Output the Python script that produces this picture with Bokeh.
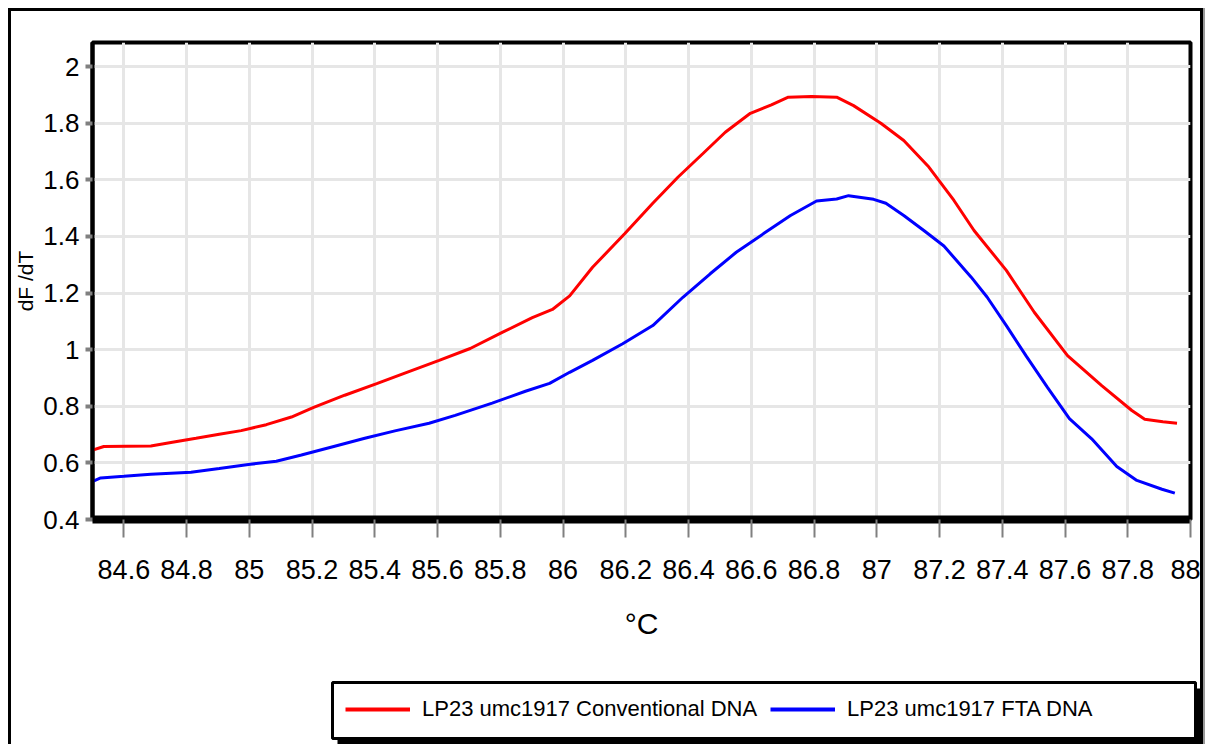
from bokeh.plotting import figure
from bokeh.layouts import column
from bokeh.models import Range1d, FixedTicker, Legend, LegendItem
from bokeh.embed import file_html
from bokeh.resources import INLINE

# Melt-curve derivative readings (temperature in °C, dF/dT)
temp_conv = [84.498, 84.536, 84.686, 84.750, 84.830, 84.904, 84.974, 85.054, 85.134, 85.205,
             85.304, 85.406, 85.502, 85.605, 85.704, 85.806, 85.902, 85.966, 86.021, 86.094,
             86.197, 86.286, 86.366, 86.446, 86.517, 86.597, 86.664, 86.718, 86.792, 86.872,
             86.926, 87.013, 87.086, 87.166, 87.246, 87.310, 87.413, 87.502, 87.608, 87.717,
             87.813, 87.854, 87.912, 87.957]
df_conv = [0.644, 0.658, 0.660, 0.672, 0.687, 0.701, 0.714, 0.735, 0.762, 0.796,
           0.839, 0.880, 0.920, 0.962, 1.004, 1.061, 1.113, 1.142, 1.190, 1.291,
           1.410, 1.517, 1.609, 1.693, 1.768, 1.835, 1.865, 1.892, 1.894, 1.892,
           1.862, 1.800, 1.739, 1.645, 1.527, 1.421, 1.280, 1.132, 0.979, 0.873,
           0.785, 0.754, 0.745, 0.740]

temp_fta = [84.501, 84.526, 84.600, 84.686, 84.814, 84.904, 85.003, 85.086, 85.166, 85.272,
            85.368, 85.464, 85.573, 85.656, 85.774, 85.880, 85.957, 86.021, 86.094, 86.190,
            86.286, 86.382, 86.469, 86.552, 86.638, 86.725, 86.808, 86.872, 86.910, 86.990,
            87.029, 87.086, 87.150, 87.214, 87.301, 87.352, 87.413, 87.477, 87.544, 87.614,
            87.685, 87.765, 87.829, 87.909, 87.950]
df_fta = [0.535, 0.547, 0.553, 0.560, 0.567, 0.580, 0.595, 0.606, 0.628, 0.659,
          0.687, 0.713, 0.740, 0.768, 0.811, 0.853, 0.881, 0.920, 0.962, 1.021,
          1.085, 1.185, 1.268, 1.344, 1.409, 1.474, 1.525, 1.532, 1.544, 1.531,
          1.517, 1.474, 1.421, 1.366, 1.256, 1.185, 1.085, 0.976, 0.867, 0.756,
          0.685, 0.587, 0.538, 0.507, 0.493]

series_names = ["LP23 umc1917 Conventional DNA", "LP23 umc1917 FTA DNA"]
series_colors = ["#ff0000", "#0000ff"]

x_ticks = [84.6, 84.8, 85.0, 85.2, 85.4, 85.6, 85.8, 86.0, 86.2, 86.4,
           86.6, 86.8, 87.0, 87.2, 87.4, 87.6, 87.8, 88.0]
x_tick_labels = ["84.6", "84.8", "85", "85.2", "85.4", "85.6", "85.8", "86", "86.2", "86.4",
                 "86.6", "86.8", "87", "87.2", "87.4", "87.6", "87.8", "88"]
y_ticks = [0.4, 0.6, 0.8, 1.0, 1.2, 1.4, 1.6, 1.8, 2.0]
y_tick_labels = ["0.4", "0.6", "0.8", "1", "1.2", "1.4", "1.6", "1.8", "2"]

FONT = "'Liberation Sans', Arial, sans-serif"

# ---- main chart ----
p = figure(width=1189, height=664, output_backend="svg", toolbar_location=None,
           x_range=Range1d(84.5, 88.0), y_range=Range1d(0.4, 2.085),
           min_border_left=80, min_border_right=10, min_border_top=31, min_border_bottom=156)
p.frame_align = False
p.background_fill_color = "white"
p.border_fill_color = "white"
p.outline_line_color = "black"
p.outline_line_width = 4

p.grid.grid_line_color = "#e6e6e6"
p.grid.grid_line_width = 3

xa = p.xaxis[0]
xa.ticker = FixedTicker(ticks=x_ticks)
xa.major_label_overrides = {t: s for t, s in zip(x_ticks, x_tick_labels)}
xa.minor_tick_line_color = None
xa.major_tick_line_color = "#808080"
xa.major_tick_line_width = 2
xa.major_tick_in = 0
xa.major_tick_out = 18
xa.axis_line_color = "black"
xa.axis_line_width = 8
xa.major_label_text_font = FONT
xa.major_label_text_font_size = "27px"
xa.major_label_text_color = "black"
xa.major_label_standoff = 22
xa.axis_label = "°C"
xa.axis_label_text_font = FONT
xa.axis_label_text_font_size = "30px"
xa.axis_label_text_font_style = "normal"
xa.axis_label_text_color = "black"
xa.axis_label_standoff = 25

ya = p.yaxis[0]
ya.ticker = FixedTicker(ticks=y_ticks)
ya.major_label_overrides = {t: s for t, s in zip(y_ticks, y_tick_labels)}
ya.minor_tick_line_color = None
ya.major_tick_line_color = "#808080"
ya.major_tick_line_width = 4
ya.major_tick_in = 0
ya.major_tick_out = 7
ya.axis_line_color = "black"
ya.axis_line_width = 4
ya.major_label_text_font = FONT
ya.major_label_text_font_size = "26px"
ya.major_label_text_color = "black"
ya.major_label_standoff = 6
ya.axis_label = "dF /dT"
ya.axis_label_text_font = FONT
ya.axis_label_text_font_size = "21px"
ya.axis_label_text_font_style = "normal"
ya.axis_label_text_color = "black"
ya.axis_label_standoff = 3

p.line(temp_conv, df_conv, line_color=series_colors[0], line_width=3)
p.line(temp_fta, df_fta, line_color=series_colors[1], line_width=3)

# ---- legend strip (pixel-like coordinates, y pointing down) ----
leg = figure(width=1189, height=69, output_backend="svg", toolbar_location=None,
             x_range=Range1d(0, 1189), y_range=Range1d(69, 0),
             x_axis_type=None, y_axis_type=None,
             min_border_left=0, min_border_right=0, min_border_top=0, min_border_bottom=0)
leg.frame_align = False
leg.grid.visible = False
leg.outline_line_color = None
leg.background_fill_color = "white"
leg.border_fill_color = "white"

# drop shadow, then framed box
leg.quad(left=326, right=1189, top=13, bottom=70, fill_color="black", line_color=None)
leg.quad(left=321, right=1184, top=7, bottom=63, fill_color="white",
         line_color="black", line_width=3)

nan = float("nan")
key_lines = [leg.line(x=[nan, nan], y=[nan, nan], line_color=c, line_width=4) for c in series_colors]
legend = Legend(items=[LegendItem(label=n, renderers=[r]) for n, r in zip(series_names, key_lines)],
                orientation="horizontal", location=(334, 22),
                glyph_width=65, glyph_height=26, label_height=26, label_standoff=12, spacing=13,
                padding=0, margin=0, border_line_color=None, background_fill_alpha=0,
                label_text_font=FONT, label_text_font_size="22px", label_text_color="black")
leg.add_layout(legend, "center")

layout = column(p, leg, spacing=0,
                styles={"margin-left": "8px", "margin-top": "8px",
                        "border-left": "3px solid black", "border-top": "3px solid black",
                        "border-right": "3px solid black",
                        "box-shadow": "2px 0 0 0 #999999"})

open("out.html", "w").write(file_html(layout, INLINE))
